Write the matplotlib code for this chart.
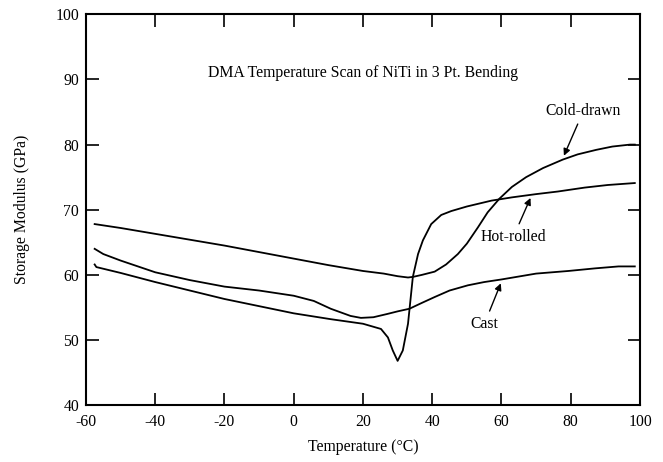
import matplotlib
matplotlib.use("Agg")
import matplotlib.pyplot as plt

plt.rcParams['font.family'] = ['Liberation Serif', 'DejaVu Serif']
plt.rcParams['axes.unicode_minus'] = False

# cold-drawn
cd_t = [-57.5, -50, -40, -30, -20, -10, 0, 10, 20, 26, 30, 33, 34.5, 37, 40.7, 44,
        47.4, 50, 53.2, 56, 59.4, 63, 67.1, 72, 77.7, 82, 87.4, 92, 97.1, 98.5]
cd_g = [67.8, 67.2, 66.3, 65.4, 64.5, 63.5, 62.5, 61.5, 60.6, 60.2, 59.8, 59.6, 59.7,
        60.0, 60.5, 61.6, 63.2, 64.8, 67.3, 69.6, 71.7, 73.5, 75.0, 76.4, 77.7, 78.5,
        79.2, 79.7, 80.0, 80.0]

# cast
ca_t = [-57.5, -55, -50, -40, -30, -20, -10, 0, 5.8, 10.7, 16.4, 19.4, 23, 27, 30,
        33.4, 37, 40.7, 45, 50.3, 55, 60, 70, 79.3, 87, 93.8, 98.5]
ca_g = [64.0, 63.2, 62.2, 60.4, 59.2, 58.2, 57.6, 56.8, 56.0, 54.8, 53.7, 53.4, 53.5,
        54.0, 54.4, 54.8, 55.7, 56.6, 57.6, 58.4, 58.9, 59.3, 60.2, 60.6, 61.0, 61.3, 61.3]

# hot-rolled
hr_t = [-57.5, -57, -50, -40, -30, -20, -10, 0, 10.7, 20, 25.2, 27.2, 28.6, 30, 31.5,
        33, 34.4, 35.9, 37.3, 39.7, 42.6, 45.5, 50, 57.1, 63, 70, 76.3, 84, 90.7, 98.5]
hr_g = [61.6, 61.2, 60.3, 58.9, 57.6, 56.3, 55.2, 54.1, 53.2, 52.5, 51.7, 50.4, 48.4,
        46.8, 48.4, 52.5, 59.7, 63.2, 65.3, 67.8, 69.2, 69.8, 70.5, 71.4, 71.9, 72.4,
        72.8, 73.4, 73.8, 74.1]

x_ticks = [-60, -40, -20, 0, 20, 40, 60, 80, 100]
y_ticks = [40, 50, 60, 70, 80, 90, 100]

fs = 11.3

fig = plt.figure(figsize=(6.63, 4.62), dpi=100)
ax = fig.add_axes([0.1297, 0.123, 0.8356, 0.846])

for t, g in [(cd_t, cd_g), (ca_t, ca_g), (hr_t, hr_g)]:
    ax.plot(t, g, color='black', lw=1.3)

ax.set_xlim(-60, 100)
ax.set_ylim(40, 100)
ax.set_xticks(x_ticks)
ax.set_yticks(y_ticks)
ax.tick_params(direction='in', length=9, width=1.2, top=True, right=True,
               labelsize=fs)
ax.tick_params(axis='x', pad=6)
ax.tick_params(axis='y', pad=5)
for s in ax.spines.values():
    s.set_linewidth(1.5)

ax.set_xlabel('Temperature (°C)', fontsize=fs, labelpad=7)
ax.set_ylabel('Storage Modulus (GPa)', fontsize=fs, labelpad=18)

ax.text(20, 91, 'DMA Temperature Scan of NiTi in 3 Pt. Bending',
        ha='center', va='center', fontsize=fs)

arr = dict(arrowstyle='-|>', color='black', lw=1.0, mutation_scale=10)
ax.annotate('Cold-drawn', xy=(77.7, 77.9), xytext=(83.7, 85.2),
            ha='center', va='center', fontsize=fs, arrowprops=arr)
ax.annotate('Hot-rolled', xy=(68.7, 72.2), xytext=(63.4, 65.8),
            ha='center', va='center', fontsize=fs, arrowprops=arr)
ax.annotate('Cast', xy=(60.1, 59.1), xytext=(55, 52.4),
            ha='center', va='center', fontsize=fs, arrowprops=arr)

fig.savefig('out.png', dpi=100)
